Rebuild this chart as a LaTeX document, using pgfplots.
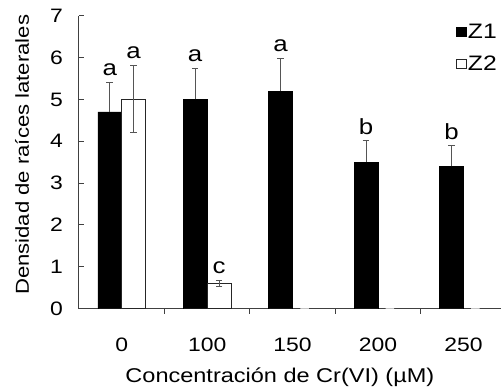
\documentclass[border=0pt]{standalone}
\usepackage{fontspec}
\setmainfont{Liberation Sans}[FakeStretch=1.18]
\usepackage{pgfplots}
\pgfplotsset{compat=1.18}
\definecolor{axgray}{HTML}{404040}
\definecolor{errgray}{HTML}{555555}
\begin{document}
\begin{tikzpicture}
\begin{axis}[
  scale only axis,
  width=422bp, height=293bp,
  xmin=-0.5, xmax=4.44,
  ymin=0, ymax=7,
  axis lines*=left,
  axis line style={-, axgray, line width=1bp},
  ytick={0,1,...,7},
  xtick={0,1,2,3,4},
  xticklabels={0,100,150,200,250},
  minor xtick={0.5,1.5,2.5,3.5},
  tick align=inside,
  major tick length=5bp,
  minor tick length=5bp,
  major x tick style={draw=none},
  minor x tick style={axgray, line width=1bp},
  major y tick style={axgray, line width=1bp},
  /pgf/number format/assume math mode=true,
  tick label style={font=\fontsize{19.5}{22}\selectfont, inner sep=0pt},
  yticklabel style={xshift=-16bp},
  xticklabel style={yshift=-24bp},
  xlabel={Concentración de Cr(VI) (µM)},
  ylabel={Densidad de raíces laterales},
  xlabel style={font=\fontsize{20}{22}\selectfont, at={(axis description cs:0.476,-0.233)}, anchor=center},
  ylabel style={font=\fontsize{18.8}{21}\selectfont, at={(axis description cs:-0.135,0.525)}, anchor=center},
  ybar,
  bar width=0.28,
  legend style={at={(axis description cs:0.893,0.978)}, anchor=north west,
    draw=none, fill=none, inner sep=0pt, row sep=13bp,
    font=\fontsize{21}{23}\selectfont,
    nodes={inner sep=1.5bp, anchor=west}},
  legend image code/.code={\draw[#1, line width=0.8bp] (0bp,-4.8bp) rectangle (9.6bp,4.8bp);},
  error bars/error bar style={errgray, line width=1bp},
  error bars/error mark options={rotate=90, mark size=3.3bp, errgray, line width=1bp},
]
\addplot[fill=black, draw=black, bar shift=-0.14,
  error bars/.cd, y dir=plus, y explicit]
  table[x=x, y=y, y error plus=e] {
x y e
0 4.7 0.70
1 5.0 0.75
2 5.2 0.78
3 3.5 0.52
4 3.4 0.50
};
\addlegendentry{Z1}
\addplot[fill=white, draw=black!85, line width=1bp, bar shift=0.14,
  error bars/.cd, y dir=both, y explicit]
  table[x=x, y=y, y error=e] {
x y e
0 5.0 0.80
1 0.6 0.08
};
\addlegendentry{Z2}
\addplot[fill=none, draw=gray!45, line width=1bp, bar shift=0.14, bar width=0.1, forget plot]
  table[x=x, y=y] {
x y
2 0
3 0
4 0
};
\begin{scope}[every node/.style={font=\fontsize{22}{24}\selectfont, anchor=base, inner sep=0pt}]
\node at (axis cs:-0.14,5.4) [yshift=7bp] {a};
\node at (axis cs:0.14,5.8) [yshift=7bp] {a};
\node at (axis cs:0.86,5.75) [yshift=7bp] {a};
\node at (axis cs:1.14,0.68) [yshift=7bp] {c};
\node at (axis cs:1.86,5.98) [yshift=7bp] {a};
\node at (axis cs:2.86,4.02) [yshift=6bp] {b};
\node at (axis cs:3.86,3.9) [yshift=6bp] {b};
\end{scope}
\end{axis}
\pgfresetboundingbox
\path (-79bp,-81.3bp) rectangle (422bp,308.7bp);
\end{tikzpicture}
\end{document}
